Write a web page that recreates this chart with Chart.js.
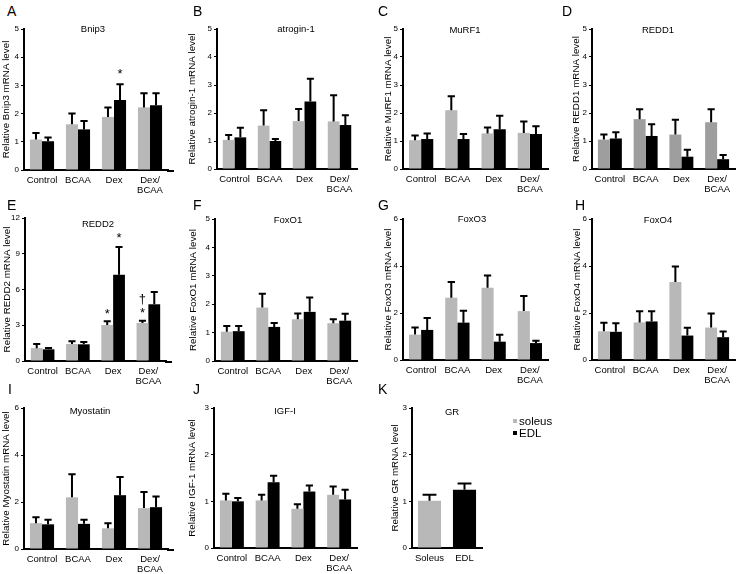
<!DOCTYPE html>
<html>
<head>
<meta charset="utf-8">
<script src="https://cdn.jsdelivr.net/npm/chart.js@4.4.0/dist/chart.umd.min.js"></script>
<style>
  body { margin: 0; background: #fff; width: 738px; height: 574px; position: relative; overflow: hidden; font-family: 'Liberation Sans', Arial, sans-serif; color: #000; }
  .box { position: absolute; }
  .letter { position: absolute; font-size: 14px; line-height: 14px; }
  .ttl { position: absolute; font-size: 9.5px; line-height: 1; transform: translate(-50%, -50%); white-space: nowrap; }
  .leg { position: absolute; font-size: 11.5px; line-height: 1; white-space: nowrap; }
  .leg i { position: absolute; left: -6px; top: 3px; width: 4px; height: 4px; }
</style>
</head>
<body>
<script>
/* global Chart */

const groups = ['Control', 'BCAA', 'Dex', ['Dex/', 'BCAA']]
const tissues = ['Soleus', 'EDL']
const legendLabels = ['soleus', 'EDL']

// means and upper SE per group
const bnip3Soleus = [1.08, 1.62, 1.88, 2.22]
const bnip3SoleusSe = [0.23, 0.38, 0.34, 0.50]
const bnip3Edl = [1.02, 1.44, 2.48, 2.30]
const bnip3EdlSe = [0.13, 0.30, 0.56, 0.42]

const atroginSoleus = [1.04, 1.55, 1.71, 1.70]
const atroginSoleusSe = [0.17, 0.55, 0.43, 0.93]
const atroginEdl = [1.13, 1.00, 2.41, 1.57]
const atroginEdlSe = [0.34, 0.07, 0.81, 0.35]

const murf1Soleus = [1.03, 2.10, 1.27, 1.29]
const murf1SoleusSe = [0.17, 0.50, 0.21, 0.41]
const murf1Edl = [1.07, 1.07, 1.42, 1.25]
const murf1EdlSe = [0.20, 0.18, 0.48, 0.28]

const redd1Soleus = [1.05, 1.78, 1.23, 1.67]
const redd1SoleusSe = [0.18, 0.35, 0.53, 0.46]
const redd1Edl = [1.09, 1.18, 0.44, 0.35]
const redd1EdlSe = [0.22, 0.42, 0.25, 0.15]

const redd2Soleus = [1.08, 1.43, 3.02, 3.19]
const redd2SoleusSe = [0.35, 0.22, 0.31, 0.19]
const redd2Edl = [0.98, 1.40, 7.24, 4.76]
const redd2EdlSe = [0.11, 0.20, 2.33, 1.03]

const foxo1Soleus = [1.03, 1.88, 1.47, 1.33]
const foxo1SoleusSe = [0.20, 0.49, 0.20, 0.14]
const foxo1Edl = [1.05, 1.20, 1.73, 1.42]
const foxo1EdlSe = [0.18, 0.14, 0.51, 0.24]

const foxo3Soleus = [1.08, 2.65, 3.07, 2.08]
const foxo3SoleusSe = [0.30, 0.67, 0.53, 0.64]
const foxo3Edl = [1.28, 1.59, 0.78, 0.72]
const foxo3EdlSe = [0.51, 0.51, 0.29, 0.10]

const foxo4Soleus = [1.22, 1.60, 3.32, 1.38]
const foxo4SoleusSe = [0.37, 0.47, 0.66, 0.60]
const foxo4Edl = [1.20, 1.64, 1.04, 0.97]
const foxo4EdlSe = [0.36, 0.43, 0.33, 0.24]

const myostatinSoleus = [1.10, 2.20, 0.88, 1.74]
const myostatinSoleusSe = [0.25, 0.98, 0.22, 0.69]
const myostatinEdl = [1.05, 1.07, 2.29, 1.78]
const myostatinEdlSe = [0.19, 0.18, 0.77, 0.45]

const igf1Soleus = [1.02, 1.02, 0.84, 1.14]
const igf1SoleusSe = [0.14, 0.12, 0.10, 0.18]
const igf1Edl = [1.00, 1.41, 1.21, 1.04]
const igf1EdlSe = [0.07, 0.14, 0.13, 0.21]

const grMean = [1.01, 1.25]
const grSe = [0.13, 0.13]

// significance marks: dataset, group, symbol, height
const bnip3Marks = [{ ds: 1, i: 2, text: '*', y: 3.5 }]
const redd2Marks = [
  { ds: 0, i: 2, text: '*', y: 4.2 },
  { ds: 1, i: 2, text: '*', y: 10.5 },
  { ds: 0, i: 3, text: '*', y: 4.25 },
  { ds: 0, i: 3, text: '†', y: 5.2 }
]

const GREY = '#b8b8b8'
const GREY_D = '#9e9e9e'
const BLACK = '#000'

const panels = [
  { key: 'A', title: 'Bnip3', yLabel: 'Relative Bnip3 mRNA level', s: bnip3Soleus, sSe: bnip3SoleusSe, e: bnip3Edl, eSe: bnip3EdlSe, max: 5, step: 1, marks: bnip3Marks, x: 24, yW: 24, top: 29, bottom: 170, w: 144, ext: 10, lx: 7, ly: 6, tx: 93, ty: 29 },
  { key: 'B', title: 'atrogin-1', yLabel: 'Relative atrogin-1 mRNA level', s: atroginSoleus, sSe: atroginSoleusSe, e: atroginEdl, eSe: atroginEdlSe, max: 5, step: 1, x: 217, yW: 31, top: 29, bottom: 169, w: 140, ext: 0, lx: 193, ly: 6, tx: 296, ty: 29 },
  { key: 'C', title: 'MuRF1', yLabel: 'Relative MuRF1 mRNA level', s: murf1Soleus, sSe: murf1SoleusSe, e: murf1Edl, eSe: murf1EdlSe, max: 5, step: 1, x: 403, yW: 21, top: 29, bottom: 169, w: 145, ext: 0, lx: 378, ly: 6, tx: 465, ty: 30 },
  { key: 'D', title: 'REDD1', yLabel: 'Relative REDD1 mRNA level', s: redd1Soleus, sSe: redd1SoleusSe, e: redd1Edl, eSe: redd1EdlSe, max: 5, step: 1, grey: GREY_D, x: 592, yW: 22, top: 29, bottom: 169, w: 143, ext: 0, lx: 562, ly: 6, tx: 658, ty: 30 },
  { key: 'E', title: 'REDD2', yLabel: 'Relative REDD2 mRNA level', s: redd2Soleus, sSe: redd2SoleusSe, e: redd2Edl, eSe: redd2EdlSe, max: 12, step: 3, marks: redd2Marks, x: 25, yW: 24, top: 218, bottom: 361, w: 141, ext: 12, lx: 7, ly: 200, tx: 98, ty: 224 },
  { key: 'F', title: 'FoxO1', yLabel: 'Relative FoxO1 mRNA level', s: foxo1Soleus, sSe: foxo1SoleusSe, e: foxo1Edl, eSe: foxo1EdlSe, max: 5, step: 1, x: 215, yW: 28, top: 219, bottom: 361, w: 142, ext: 0, lx: 193, ly: 200, tx: 288, ty: 220 },
  { key: 'G', title: 'FoxO3', yLabel: 'Relative FoxO3 mRNA level', s: foxo3Soleus, sSe: foxo3SoleusSe, e: foxo3Edl, eSe: foxo3EdlSe, max: 6, step: 2, x: 403, yW: 21, top: 219, bottom: 360, w: 145, ext: 0, lx: 378, ly: 200, tx: 472, ty: 219 },
  { key: 'H', title: 'FoxO4', yLabel: 'Relative FoxO4 mRNA level', s: foxo4Soleus, sSe: foxo4SoleusSe, e: foxo4Edl, eSe: foxo4EdlSe, max: 6, step: 2, x: 592, yW: 21, top: 219, bottom: 360, w: 143, ext: 0, lx: 575, ly: 200, tx: 658, ty: 220 },
  { key: 'I', title: 'Myostatin', yLabel: 'Relative Myostatin mRNA level', s: myostatinSoleus, sSe: myostatinSoleusSe, e: myostatinEdl, eSe: myostatinEdlSe, max: 6, step: 2, x: 24, yW: 24, top: 408, bottom: 549, w: 144, ext: 10, lx: 8, ly: 384, tx: 90, ty: 411 },
  { key: 'J', title: 'IGF-I', yLabel: 'Relative IGF-1 mRNA level', s: igf1Soleus, sSe: igf1SoleusSe, e: igf1Edl, eSe: igf1EdlSe, max: 3, step: 1, x: 214, yW: 28, top: 408, bottom: 548, w: 143, ext: 0, lx: 193, ly: 384, tx: 285, ty: 411 },
  { key: 'K', title: 'GR', yLabel: 'Relative GR mRNA level', single: true, max: 3, step: 1, x: 412, yW: 23, top: 408, bottom: 548, w: 70, ext: 0, lx: 378, ly: 384, tx: 452, ty: 412 }
]

const PAD_TOP = 10
const PAD_RIGHT = 6
const X_H = 30

// upper error bars, significance symbols and the longer baseline
const extras = {
  id: 'extras',
  afterDatasetsDraw (chart, args, opts) {
    const { ctx, chartArea, scales: { y } } = chart
    ctx.save()
    ctx.strokeStyle = '#000'
    ctx.lineWidth = 2
    chart.data.datasets.forEach((ds, di) => {
      chart.getDatasetMeta(di).data.forEach((bar, i) => {
        const v = ds.data[i]
        if (v == null) return
        const top = y.getPixelForValue(v + ds.se[i])
        const cap = bar.width * 0.3
        ctx.beginPath()
        ctx.moveTo(bar.x, bar.y)
        ctx.lineTo(bar.x, top)
        ctx.moveTo(bar.x - cap, top)
        ctx.lineTo(bar.x + cap, top)
        ctx.stroke()
      })
    })
    if (opts.ext) {
      ctx.beginPath()
      ctx.moveTo(chartArea.right - 1, chartArea.bottom + 1)
      ctx.lineTo(chartArea.right + opts.ext, chartArea.bottom + 1)
      ctx.stroke()
    }
    ctx.fillStyle = '#000'
    ctx.font = "13px 'Liberation Sans', Arial, sans-serif"
    ctx.textAlign = 'center'
    ctx.textBaseline = 'middle'
    ;(opts.marks || []).forEach(m => {
      const bar = chart.getDatasetMeta(m.ds).data[m.i]
      ctx.fillText(m.text, bar.x, y.getPixelForValue(m.y) + (m.text === '*' ? 3 : 0))
    })
    ctx.restore()
  }
}

Chart.defaults.font.family = "'Liberation Sans', Arial, sans-serif"
Chart.defaults.color = '#000'

function buildDatasets (p) {
  if (p.single) {
    return [
      { label: tissues[0], data: [grMean[0], null], se: [grSe[0], 0], backgroundColor: GREY },
      { label: tissues[1], data: [null, grMean[1]], se: [0, grSe[1]], backgroundColor: BLACK }
    ]
  }
  return [
    { label: tissues[0], data: p.s, se: p.sSe, backgroundColor: p.grey || GREY },
    { label: tissues[1], data: p.e, se: p.eSe, backgroundColor: BLACK }
  ]
}

function buildPanel (p) {
  const box = document.createElement('div')
  box.className = 'box'
  box.style.left = (p.x - p.yW) + 'px'
  box.style.top = (p.top - PAD_TOP) + 'px'
  box.style.width = (p.yW + p.w + PAD_RIGHT) + 'px'
  box.style.height = (PAD_TOP + p.bottom - p.top + X_H) + 'px'
  const canvas = document.createElement('canvas')
  box.appendChild(canvas)
  document.body.appendChild(box)

  new Chart(canvas.getContext('2d'), {
    type: 'bar',
    data: { labels: p.single ? tissues : groups, datasets: buildDatasets(p) },
    options: {
      responsive: true,
      maintainAspectRatio: false,
      animation: false,
      layout: { padding: { top: PAD_TOP, right: PAD_RIGHT, left: 0, bottom: 0 } },
      datasets: { bar: { categoryPercentage: p.single ? 0.66 : 0.67, barPercentage: 1, borderWidth: 0, skipNull: true } },
      plugins: {
        legend: { display: false },
        tooltip: { enabled: false },
        extras: { marks: p.marks, ext: p.ext }
      },
      scales: {
        x: {
          grid: { display: false, drawTicks: false },
          border: { display: true, color: '#000', width: 2 },
          ticks: { font: { size: 9.5, lineHeight: 1.1 }, padding: 5, maxRotation: 0, autoSkip: false },
          afterFit (scale) { scale.height = X_H }
        },
        y: {
          min: 0,
          max: p.max,
          grid: { display: true, drawOnChartArea: false, drawTicks: true, tickLength: 3, color: '#000', lineWidth: 1 },
          border: { display: true, color: '#000', width: 2 },
          ticks: { stepSize: p.step, font: { size: 8 }, padding: 2 },
          title: { display: true, text: p.yLabel, font: { size: 9.8 }, padding: 0 },
          afterFit (scale) { scale.width = p.yW }
        }
      }
    },
    plugins: [extras]
  })

  const letter = document.createElement('div')
  letter.className = 'letter'
  letter.style.left = p.lx + 'px'
  letter.style.top = (p.ly - 2) + 'px'
  letter.textContent = p.key
  document.body.appendChild(letter)

  const ttl = document.createElement('div')
  ttl.className = 'ttl'
  ttl.style.left = p.tx + 'px'
  ttl.style.top = p.ty + 'px'
  ttl.textContent = p.title
  document.body.appendChild(ttl)
}

function buildLegend () {
  const colors = [GREY, BLACK]
  const ys = [416, 428]
  legendLabels.forEach((name, i) => {
    const el = document.createElement('div')
    el.className = 'leg'
    el.style.left = '519px'
    el.style.top = ys[i] + 'px'
    el.innerHTML = `<i style="background:${colors[i]}"></i>${name}`
    document.body.appendChild(el)
  })
}

panels.forEach(buildPanel)
buildLegend()
</script>
</body>
</html>
